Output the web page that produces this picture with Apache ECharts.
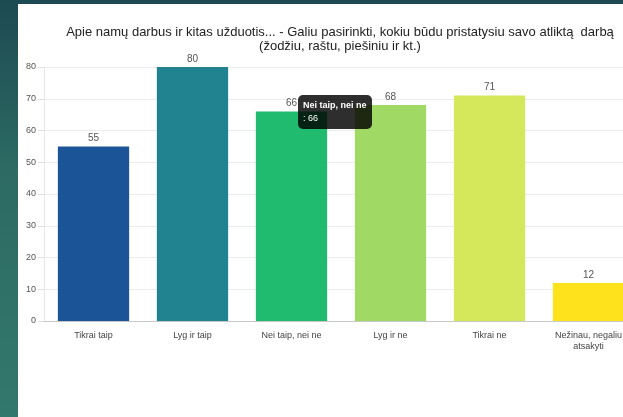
<!DOCTYPE html>
<html>
<head>
<meta charset="utf-8">
<script src="https://cdn.jsdelivr.net/npm/echarts@6/dist/echarts.min.js"></script>
<style>
html,body{margin:0;padding:0;width:623px;height:417px;overflow:hidden;}
body{background:linear-gradient(180deg,#1d4a52 0%,#2c6a63 40%,#33786c 100%);position:relative;}
#wrap{position:absolute;left:18px;top:4px;width:605px;height:413px;overflow:hidden;background:#fff;}
#chart{position:absolute;left:0;top:0;width:644px;height:413px;}
</style>
</head>
<body>
<div id="wrap"><div id="chart"></div></div>
<script>
const titleText = 'Apie namų darbus ir kitas užduotis... - Galiu pasirinkti, kokiu būdu pristatysiu savo atliktą  darbą\n(žodžiu, raštu, piešiniu ir kt.)';
const categories = ['Tikrai taip', 'Lyg ir taip', 'Nei taip, nei ne', 'Lyg ir ne', 'Tikrai ne', 'Nežinau, negaliu\natsakyti'];
const values = [55, 80, 66, 68, 71, 12];
const barColors = ['#1b5597', '#21838f', '#20bb6e', '#a0d964', '#d5e75a', '#fde21c'];
const tooltipIndex = 2;

const chart = echarts.init(document.getElementById('chart'), null, {renderer: 'canvas'});
chart.setOption({
  animation: false,
  title: {
    text: titleText,
    left: 'center',
    top: 16,
    textStyle: {fontFamily: 'Liberation Sans, Arial, sans-serif', fontSize: 13, fontWeight: 'normal', color: '#222', lineHeight: 14}
  },
  grid: {left: 26, right: 24, top: 63, bottom: 96},
  tooltip: {
    trigger: 'item',
    triggerOn: 'none',
    alwaysShowContent: true,
    backgroundColor: 'rgba(0,0,0,0.82)',
    borderWidth: 0,
    borderRadius: 5,
    padding: [4, 5],
    extraCssText: 'box-shadow:none;',
    textStyle: {color: '#fff', fontSize: 9, fontFamily: 'Liberation Sans, Arial, sans-serif'},
    formatter: function (p) {
      return '<div style="line-height:13px;font-size:9px"><b>' + p.name + '</b><br/>: ' + p.value + '</div>';
    },
    position: function (point, params) {
      const px = chart.convertToPixel({seriesIndex: 0}, [params.dataIndex, params.value]);
      return [px[0] + 6, px[1] - 16];
    }
  },
  xAxis: {
    type: 'category',
    data: categories,
    axisLine: {lineStyle: {color: '#c8c8c8'}},
    axisTick: {show: false},
    axisLabel: {color: '#444', fontSize: 9, fontFamily: 'Liberation Sans, Arial, sans-serif', margin: 9, lineHeight: 11, interval: 0},
    splitLine: {show: false}
  },
  yAxis: {
    type: 'value',
    min: 0,
    max: 80,
    interval: 10,
    axisLine: {show: true, lineStyle: {color: '#e6e6e6'}},
    axisTick: {show: true, length: 6, lineStyle: {color: '#e0e0e0'}},
    axisLabel: {color: '#555', fontSize: 9, fontFamily: 'Liberation Sans, Arial, sans-serif', margin: 8},
    splitLine: {lineStyle: {color: '#ececec'}}
  },
  series: [{
    type: 'bar',
    data: values.map((v, i) => ({value: v, itemStyle: {color: barColors[i]}})),
    barWidth: '72%',
    label: {show: true, position: 'top', distance: 3, color: '#555', fontSize: 10, fontFamily: 'Liberation Sans, Arial, sans-serif'}
  }]
});
chart.dispatchAction({type: 'showTip', seriesIndex: 0, dataIndex: tooltipIndex});
</script>
</body>
</html>
